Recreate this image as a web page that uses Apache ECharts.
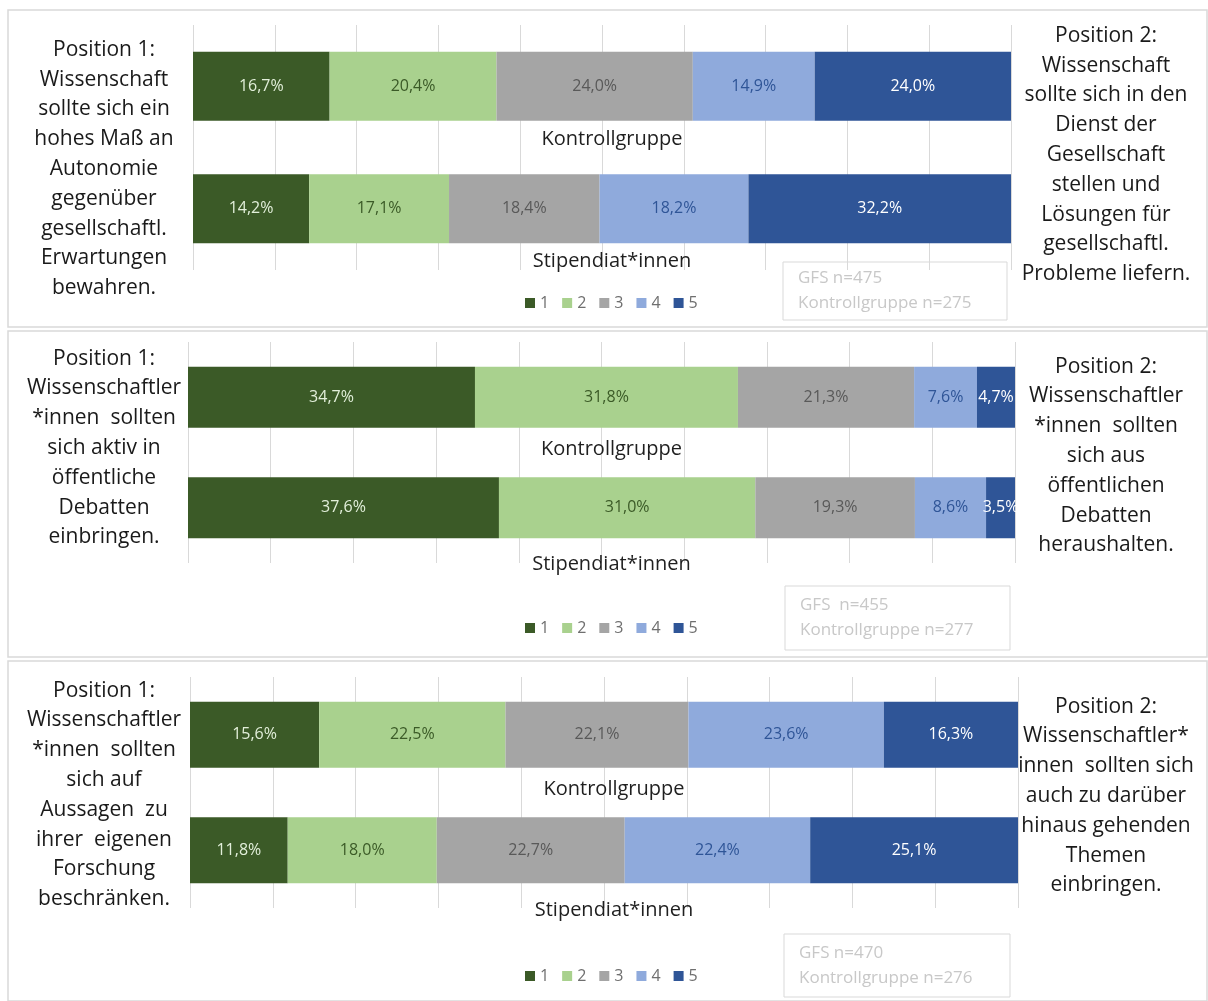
<!DOCTYPE html>
<html><head><meta charset="utf-8">
<script src="https://cdn.jsdelivr.net/npm/echarts@6/dist/echarts.min.js"></script>
<style>html,body{margin:0;padding:0;background:#fff}#c{width:1208px;height:1001px}</style>
</head><body><div id="c"></div>
<script>
const categories = ['Kontrollgruppe', 'Stipendiat*innen'];
const seriesNames = ['1', '2', '3', '4', '5'];
// panel values: [Kontrollgruppe, Stipendiat*innen] per answer level
const panel1 = { s1: [16.7, 14.2], s2: [20.4, 17.1], s3: [24.0, 18.4], s4: [14.9, 18.2], s5: [24.0, 32.2] };
const panel2 = { s1: [34.7, 37.6], s2: [31.8, 31.0], s3: [21.3, 19.3], s4: [7.6, 8.6], s5: [4.7, 3.5] };
const panel3 = { s1: [15.6, 11.8], s2: [22.5, 18.0], s3: [22.1, 22.7], s4: [23.6, 22.4], s5: [16.3, 25.1] };
const leftTexts = [
  'Position 1:\nWissenschaft\nsollte sich ein\nhohes Maß an\nAutonomie\ngegenüber\ngesellschaftl.\nErwartungen\nbewahren.',
  'Position 1:\nWissenschaftler\n*innen  sollten\nsich aktiv in\nöffentliche\nDebatten\neinbringen.',
  'Position 1:\nWissenschaftler\n*innen  sollten\nsich auf\nAussagen  zu\nihrer  eigenen\nForschung\nbeschränken.'
];
const rightTexts = [
  'Position 2:\nWissenschaft\nsollte sich in den\nDienst der\nGesellschaft\nstellen und\nLösungen für\ngesellschaftl.\nProbleme liefern.',
  'Position 2:\nWissenschaftler\n*innen  sollten\nsich aus\nöffentlichen\nDebatten\nheraushalten.',
  'Position 2:\nWissenschaftler*\ninnen  sollten sich\nauch zu darüber\nhinaus gehenden\nThemen\neinbringen.'
];
const nTexts = [
  'GFS n=475\nKontrollgruppe n=275',
  'GFS  n=455\nKontrollgruppe n=277',
  'GFS n=470\nKontrollgruppe n=276'
];
const panels = [panel1, panel2, panel3];

const colors = ['#3b5a27', '#a9d18e', '#a5a5a5', '#8faadc', '#2f5597'];
const labelColors = ['#e2efda', '#3b5a27', '#595959', '#2f5597', '#ffffff'];
const FONT = '"Open Sans", Lato, sans-serif';

// layout
const grids = [
  { left: 193, width: 818, top: 25, height: 245, bar: 69, catOff: [53, 53] },
  { left: 188, width: 827, top: 342, height: 221, bar: 61, catOff: [52, 57] },
  { left: 190, width: 828, top: 677, height: 231, bar: 66, catOff: [55, 60] }
];
const boxes = [
  { x: 8, y: 10, w: 1199, h: 317, lt: 169, rt: 155, nb: [783, 262, 224, 58], leg: 290 },
  { x: 8, y: 331, w: 1199, h: 326, lt: 448, rt: 456, nb: [785, 586, 225, 64], leg: 615 },
  { x: 8, y: 661, w: 1199, h: 340, lt: 795, rt: 796, nb: [784, 934, 226, 63], leg: 963 }
];

const option = {
  animation: false,
  backgroundColor: '#fff',
  grid: grids.map(g => ({ left: g.left, width: g.width, top: g.top, height: g.height })),
  xAxis: grids.map((g, i) => ({
    type: 'value', gridIndex: i, min: 0, max: 100, interval: 10,
    axisLabel: { show: false }, axisLine: { show: false }, axisTick: { show: false },
    splitLine: { show: true, lineStyle: { color: '#d9d9d9', width: 1 } }
  })),
  yAxis: grids.map((g, i) => ({
    type: 'category', gridIndex: i, data: categories, inverse: true,
    axisLabel: { show: false }, axisLine: { show: false }, axisTick: { show: false }
  })),
  legend: boxes.map(b => ({
    data: seriesNames, left: 520, top: b.leg, itemWidth: 10, itemHeight: 10, itemGap: 13,
    icon: 'rect', textStyle: { color: '#6f6f6f', fontSize: 16, fontFamily: FONT }, selectedMode: false
  })),
  series: [],
  graphic: []
};

panels.forEach((p, i) => {
  const keys = ['s1', 's2', 's3', 's4', 's5'];
  keys.forEach((k, j) => {
    option.series.push({
      type: 'bar', name: seriesNames[j], stack: 'p' + i, xAxisIndex: i, yAxisIndex: i,
      data: p[k], barWidth: grids[i].bar, itemStyle: { color: colors[j] },
      label: {
        show: true, position: 'inside', color: labelColors[j], fontSize: 16, fontFamily: FONT,
        formatter: d => d.value.toFixed(1).replace('.', ',') + '%'
      }
    });
  });
  // category labels below each bar
  option.series.push({
    type: 'scatter', xAxisIndex: i, yAxisIndex: i, symbolSize: 0, silent: true,
    itemStyle: { opacity: 1 },
    data: categories.map((c, k) => ({
      value: [50, c],
      label: { offset: [10, grids[i].catOff[k]] }
    })),
    label: {
      show: true, position: 'inside', color: '#1f1f1f',
      fontSize: 20, fontFamily: FONT, formatter: d => d.value[1]
    }
  });
});

boxes.forEach((b, i) => {
  option.graphic.push({
    type: 'rect', shape: { x: b.x, y: b.y, width: b.w, height: b.h },
    style: { fill: 'none', stroke: '#d9d9d9', lineWidth: 1.5 }, silent: true
  });
  option.graphic.push({
    type: 'text', x: 104, y: b.lt,
    style: { text: leftTexts[i], align: 'center', verticalAlign: 'middle', fill: '#1a1a1a',
      font: '21px ' + FONT, lineHeight: 29.8 }
  });
  option.graphic.push({
    type: 'text', x: 1106, y: b.rt,
    style: { text: rightTexts[i], align: 'center', verticalAlign: 'middle', fill: '#1a1a1a',
      font: '21px ' + FONT, lineHeight: 29.8 }
  });
  option.graphic.push({
    type: 'rect', shape: { x: b.nb[0], y: b.nb[1], width: b.nb[2], height: b.nb[3] },
    style: { fill: '#fff', stroke: '#d9d9d9', lineWidth: 1 }, silent: true
  });
  option.graphic.push({
    type: 'text', x: b.nb[0] + 15, y: b.nb[1] + b.nb[3] / 2,
    style: { text: nTexts[i], align: 'left', verticalAlign: 'middle', fill: '#c8c8c8',
      font: '17px ' + FONT, lineHeight: 25 }
  });
});

const chart = echarts.init(document.getElementById('c'), null, { renderer: 'canvas' });
chart.setOption(option);
</script></body></html>
